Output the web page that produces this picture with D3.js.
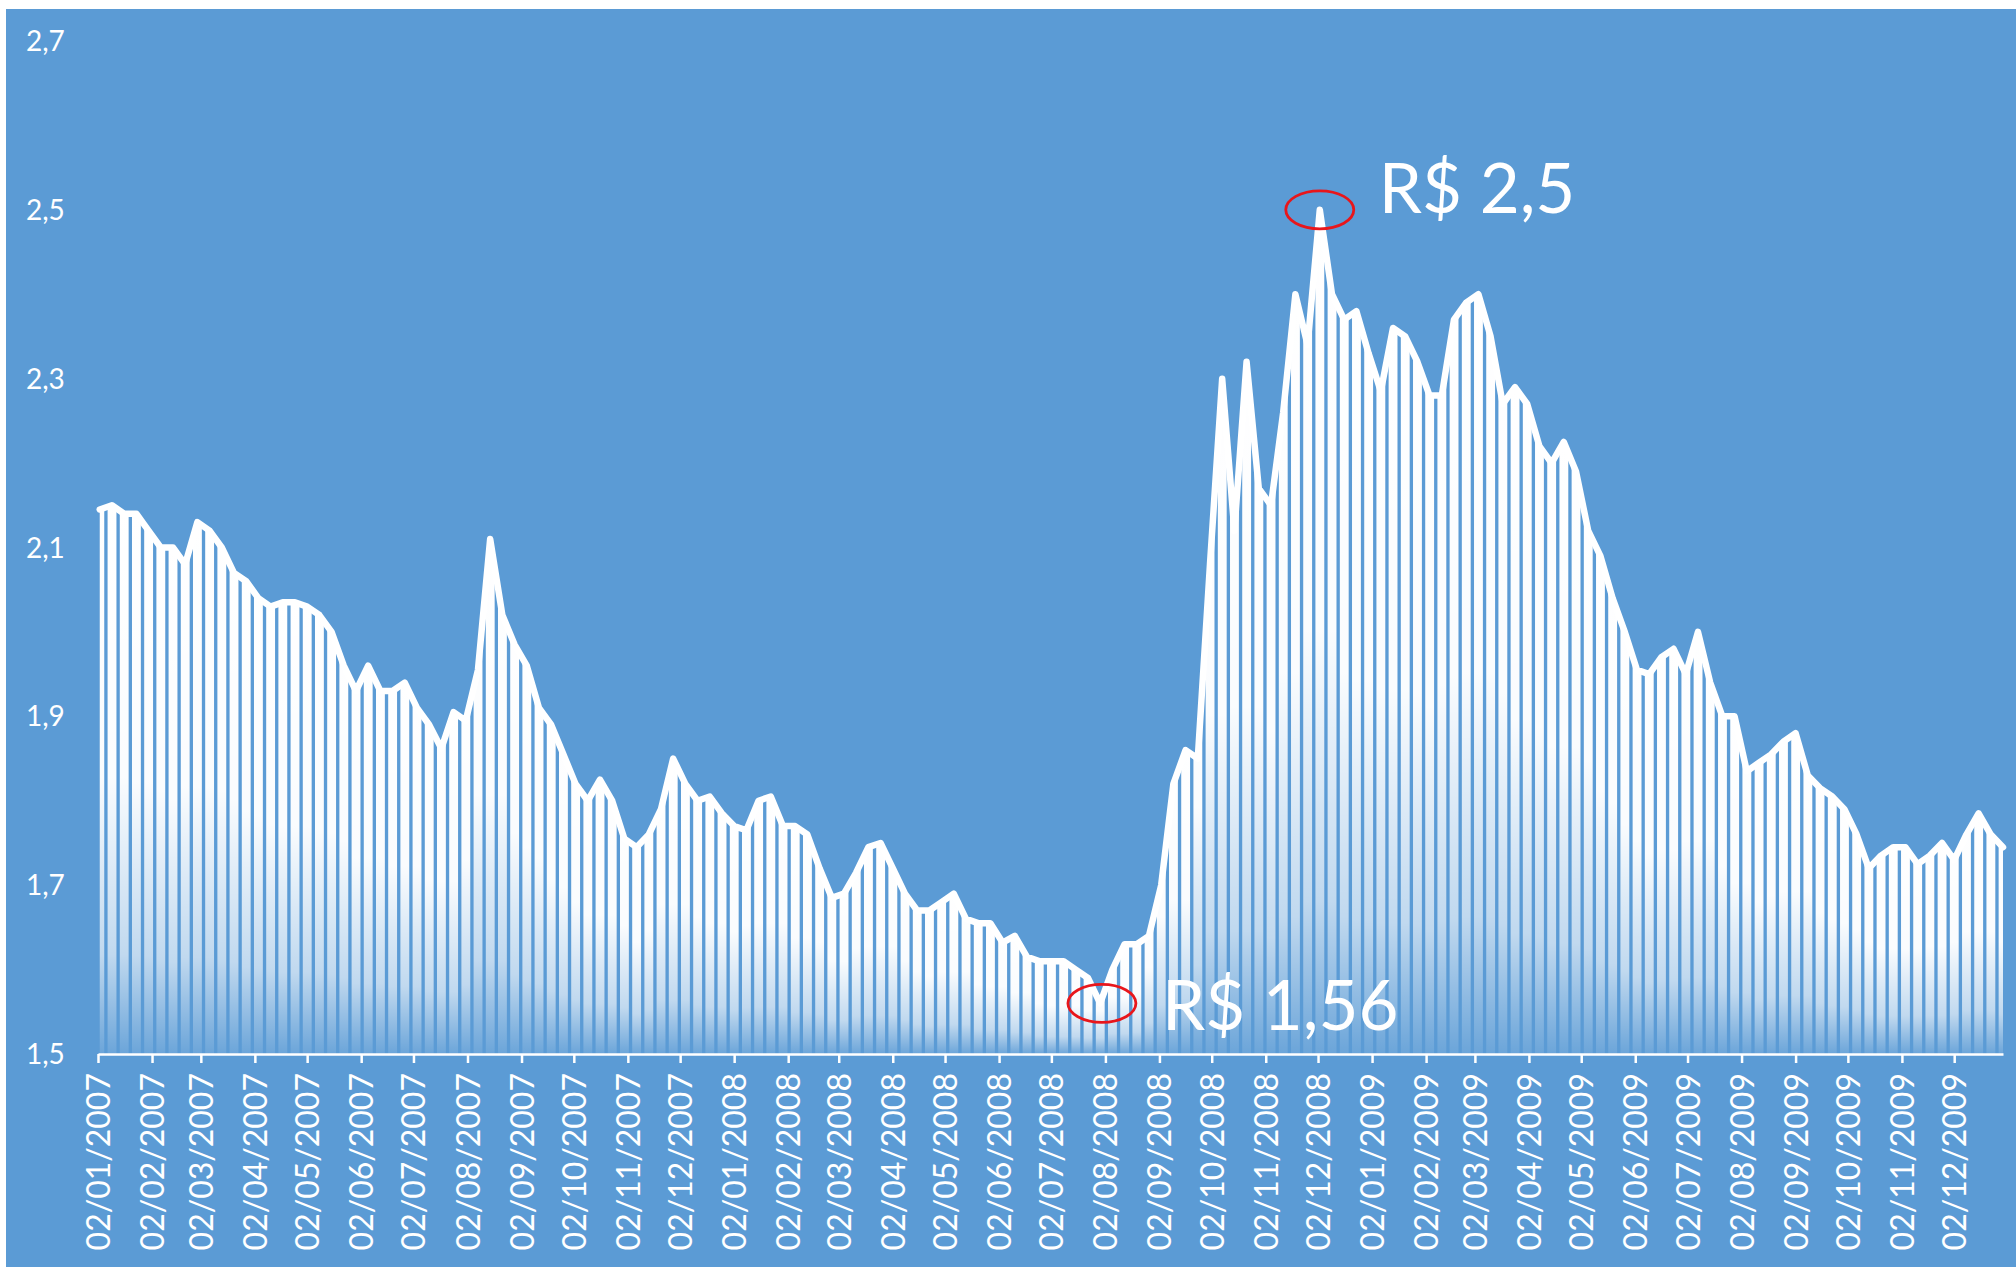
<!DOCTYPE html>
<html>
<head>
<meta charset="utf-8">
<script src="https://cdn.jsdelivr.net/npm/d3@7"></script>
<style>
  body { margin: 0; background: #fff; }
  svg { display: block; }
</style>
</head>
<body>
<svg width="2016" height="1267"></svg>
<script>
// USD/BRL, one reading per week (weeks start on Monday)
var rates2007 = [2.145, 2.15, 2.14, 2.14, 2.12, 2.10, 2.10, 2.08, 2.13, 2.12,
                 2.10, 2.07, 2.06, 2.04, 2.03, 2.035, 2.035, 2.03, 2.02, 2.00,
                 1.96, 1.93, 1.96, 1.93, 1.93, 1.94, 1.91, 1.89, 1.862, 1.905,
                 1.895, 1.955, 2.11, 2.02, 1.985, 1.96, 1.91, 1.89, 1.855, 1.82,
                 1.80, 1.825, 1.80, 1.755, 1.745, 1.76, 1.79, 1.85, 1.82, 1.80,
                 1.805, 1.785, 1.77];
var rates2008 = [1.765, 1.80, 1.805, 1.77, 1.77, 1.76, 1.72, 1.685, 1.69, 1.715,
                 1.745, 1.75, 1.72, 1.69, 1.67, 1.67, 1.68, 1.69, 1.66, 1.655,
                 1.655, 1.632, 1.64, 1.615, 1.61, 1.61, 1.61, 1.60, 1.59, 1.56,
                 1.60, 1.63, 1.63, 1.64, 1.70, 1.82, 1.86, 1.85, 2.08, 2.30,
                 2.12, 2.32, 2.17, 2.15, 2.26, 2.40, 2.34, 2.50, 2.40, 2.37,
                 2.38, 2.33];
var rates2009 = [2.285, 2.36, 2.35, 2.32, 2.28, 2.28, 2.37, 2.39, 2.40, 2.35,
                 2.27, 2.29, 2.27, 2.22, 2.20, 2.225, 2.19, 2.12, 2.09, 2.04,
                 2.00, 1.955, 1.95, 1.97, 1.98, 1.95, 2.00, 1.94, 1.90, 1.90,
                 1.835, 1.845, 1.855, 1.87, 1.88, 1.83, 1.815, 1.805, 1.79, 1.76,
                 1.72, 1.735, 1.745, 1.745, 1.725, 1.735, 1.75, 1.73, 1.76, 1.785,
                 1.76, 1.745];

var monthTicks = ["02/01/2007", "02/02/2007", "02/03/2007", "02/04/2007", "02/05/2007", "02/06/2007",
                  "02/07/2007", "02/08/2007", "02/09/2007", "02/10/2007", "02/11/2007", "02/12/2007",
                  "02/01/2008", "02/02/2008", "02/03/2008", "02/04/2008", "02/05/2008", "02/06/2008",
                  "02/07/2008", "02/08/2008", "02/09/2008", "02/10/2008", "02/11/2008", "02/12/2008",
                  "02/01/2009", "02/02/2009", "02/03/2009", "02/04/2009", "02/05/2009", "02/06/2009",
                  "02/07/2009", "02/08/2009", "02/09/2009", "02/10/2009", "02/11/2009", "02/12/2009"];
var yTicks = [1.5, 1.7, 1.9, 2.1, 2.3, 2.5, 2.7];

var noteDates = ["03/12/2008", "31/07/2008"];
var noteValues = [2.5, 1.56];
var noteLabels = ["R$ 2,5", "R$ 1,56"];

function main(){
    var svg = d3.select("svg"),
        font = "Lato, 'Open Sans', sans-serif",
        parse = d3.timeParse("%d/%m/%Y"),
        ptBR = d3.formatLocale({decimal: ",", thousands: ".", grouping: [3], currency: ["R$ ", ""]}),
        fmt = ptBR.format(".1f");

    svg.append("rect")
        .attr("x", 6).attr("y", 9)
        .attr("width", 2010).attr("height", 1258)
        .attr("fill", "#5B9BD5");

    var x = d3.scaleTime()
        .domain([parse("02/01/2007"), parse("30/12/2009")])
        .range([98, 2003]);
    var y = d3.scaleLinear().domain([1.5, 2.7]).range([1054, 41]);

    var rows = [];
    [[2007, rates2007], [2008, rates2008], [2009, rates2009]].forEach(function(p){
        var mondays = d3.timeMonday.range(new Date(p[0], 0, 1), new Date(p[0] + 1, 0, 1));
        mondays.forEach(function(m, i){
            rows.push({monday: m, mid: d3.timeDay.offset(m, 2), value: p[1][i]});
        });
    });

    var defs = svg.append("defs");
    var grad = defs.append("linearGradient")
        .attr("id", "barFade")
        .attr("x1", 0).attr("y1", 0).attr("x2", 0).attr("y2", 1);
    [[0, 1], [0.5, 0.97], [0.82, 0.62], [1, 0.1]].forEach(function(s){
        grad.append("stop").attr("offset", s[0])
            .attr("stop-color", "#fff").attr("stop-opacity", s[1]);
    });

    var area = d3.area()
        .x(function(d){ return x(d.mid); })
        .y0(y(1.5))
        .y1(function(d){ return y(d.value); });
    defs.append("clipPath").attr("id", "underLine")
        .append("path").attr("d", area(rows));

    function weekTop(i){
        return d3.max([rows[i - 1], rows[i], rows[i + 1]].filter(Boolean), function(r){ return r.value; });
    }

    // one column block per trading week, weekends left open
    svg.append("g")
        .attr("clip-path", "url(#underLine)")
        .selectAll("rect")
        .data(rows)
        .enter().append("rect")
        .attr("x", function(d){ return x(d3.timeHour.offset(d.monday, -12)); })
        .attr("width", function(d){
            return x(d3.timeHour.offset(d.monday, 110)) - x(d3.timeHour.offset(d.monday, -12));
        })
        .attr("y", function(d, i){ return y(weekTop(i)) - 4; })
        .attr("height", function(d, i){ return y(1.5) - y(weekTop(i)) + 4; })
        .attr("fill", "url(#barFade)");

    var line = d3.line()
        .x(function(d){ return x(d.mid); })
        .y(function(d){ return y(d.value); });
    svg.append("path")
        .datum(rows)
        .attr("d", line)
        .attr("fill", "none")
        .attr("stroke", "#fff")
        .attr("stroke-width", 6.5)
        .attr("stroke-linejoin", "round")
        .attr("stroke-linecap", "round");

    // x axis
    var xg = svg.append("g")
        .attr("transform", "translate(0," + y(1.5) + ")")
        .call(d3.axisBottom(x)
            .tickValues(monthTicks.map(parse))
            .tickFormat(function(d, i){ return monthTicks[i]; })
            .tickSize(9)
            .tickSizeOuter(0))
        .attr("font-family", font)
        .attr("font-size", 32);
    xg.select(".domain").attr("stroke", "#fff").attr("stroke-width", 2.5);
    xg.selectAll(".tick line").attr("stroke", "#fff").attr("stroke-width", 2.5);
    xg.selectAll(".tick text")
        .attr("fill", "#fff")
        .attr("transform", "rotate(-90)")
        .attr("x", -19)
        .attr("y", 0)
        .attr("dy", "0.36em")
        .attr("text-anchor", "end");

    // y labels, no axis line
    svg.append("g").selectAll("text")
        .data(yTicks)
        .enter().append("text")
        .attr("x", 26)
        .attr("y", function(d){ return y(d); })
        .attr("dy", "0.36em")
        .attr("font-family", font)
        .attr("font-size", 28)
        .attr("fill", "#fff")
        .text(function(d){ return fmt(d); });

    // notes: red ring on the extreme and its value
    var noteOffset = [[59, 3], [60, 27]];
    noteDates.forEach(function(s, i){
        var cx = x(parse(s)), cy = y(noteValues[i]);
        svg.append("ellipse")
            .attr("cx", cx).attr("cy", cy)
            .attr("rx", 34).attr("ry", 19)
            .attr("fill", "none")
            .attr("stroke", "#E8161B")
            .attr("stroke-width", 2.8);
        svg.append("text")
            .attr("x", cx + noteOffset[i][0])
            .attr("y", cy + noteOffset[i][1])
            .attr("font-family", font)
            .attr("font-size", 69)
            .attr("fill", "#fff")
            .text(noteLabels[i]);
    });
}
main();
</script>
</body>
</html>
